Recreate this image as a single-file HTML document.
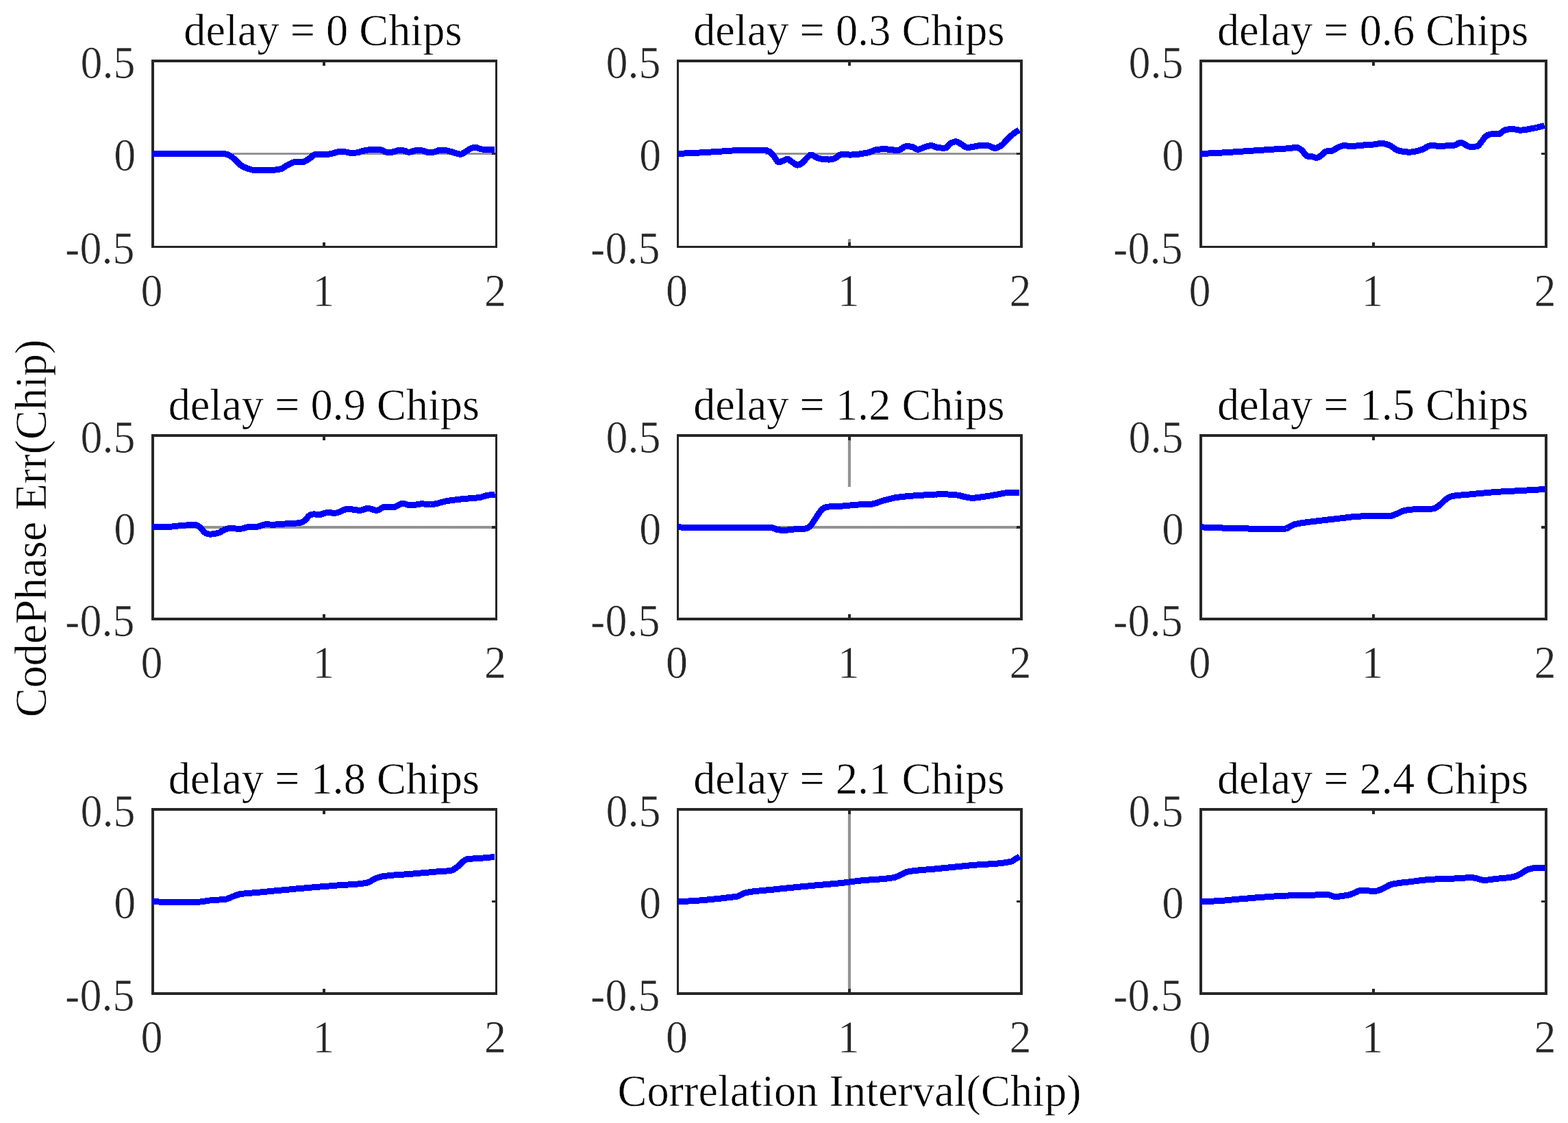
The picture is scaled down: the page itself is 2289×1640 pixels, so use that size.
<!DOCTYPE html>
<html lang="en">
<head>
<meta charset="utf-8">
<title>CodePhase Err vs Correlation Interval</title>
<style>
html,body{margin:0;padding:0;background:#fff;}
body{width:2289px;height:1640px;overflow:hidden;}
svg{display:block;}
text{font-family:"Liberation Serif",serif;font-size:64.35px;white-space:pre;stroke:#fff;stroke-width:0.6px;stroke-linejoin:round;}
text.d{font-size:64px;}
.ax{fill:#262626;shape-rendering:crispEdges;}
.dz{fill:url(#dith);shape-rendering:crispEdges;}
.ln{shape-rendering:crispEdges;fill:none;stroke:#0000ff;stroke-width:9;stroke-linejoin:round;stroke-linecap:butt;}
</style>
</head>
<body>
<svg width="2289" height="1640" viewBox="0 0 2289 1640">
<defs>
<pattern id="dith" patternUnits="userSpaceOnUse" x="0" y="0" width="2" height="2">
<rect x="0" y="0" width="1" height="1" fill="#262626"/>
<rect x="1" y="1" width="1" height="1" fill="#262626"/>
</pattern>
</defs>
<rect x="0" y="0" width="2289" height="1640" fill="#fff"/>
<g id="plot1">
<rect class="dz" x="225" y="223" width="498" height="3"/>
<rect class="ax" x="221" y="87" width="4" height="275"/>
<rect class="ax" x="723" y="87" width="3" height="275"/>
<rect class="ax" x="221" y="87" width="505" height="4"/>
<rect class="ax" x="221" y="359" width="505" height="3"/>
<rect class="ax" x="471" y="91" width="4" height="5"/>
<rect class="ax" x="471" y="354" width="4" height="5"/>
<rect class="ax" x="225" y="223" width="5" height="3"/>
<rect class="ax" x="718" y="223" width="5" height="3"/>
<polyline class="ln" points="221.9,224.4 223.9,224.4 225.9,224.4 227.9,224.4 229.9,224.4 231.9,224.4 233.9,224.4 235.9,224.4 237.9,224.4 239.9,224.4 241.9,224.4 243.9,224.4 245.9,224.4 247.9,224.4 249.9,224.4 251.9,224.4 253.9,224.4 255.9,224.4 257.9,224.4 259.9,224.4 261.9,224.4 263.9,224.4 265.9,224.4 267.9,224.4 269.9,224.4 271.9,224.4 273.9,224.4 275.9,224.4 277.9,224.4 279.9,224.4 281.9,224.4 283.9,224.4 285.9,224.4 287.9,224.4 289.9,224.4 291.9,224.4 293.9,224.4 295.9,224.4 297.9,224.4 299.9,224.4 301.9,224.4 303.9,224.4 305.9,224.4 307.9,224.4 309.9,224.4 311.9,224.4 313.9,224.4 315.9,224.4 317.9,224.4 319.9,224.4 321.9,224.4 323.9,224.4 325.9,224.5 327.9,224.7 329.9,225.1 331.9,225.6 333.9,226.3 335.9,227.5 337.9,228.9 339.9,230.4 341.9,232.1 343.9,234.1 345.9,236.2 347.9,238.2 349.9,240.1 351.9,241.6 353.9,242.7 355.9,243.8 357.9,244.7 359.9,245.6 361.9,246.3 363.9,246.9 365.9,247.5 367.9,248.0 369.9,248.3 371.9,248.4 373.9,248.4 375.9,248.4 378.0,248.4 380.0,248.4 382.0,248.4 384.0,248.4 386.0,248.4 388.0,248.4 390.0,248.4 392.0,248.4 394.0,248.4 396.0,248.4 398.0,248.3 400.0,248.2 402.0,248.0 404.0,247.8 406.0,247.5 408.0,247.2 410.0,246.7 412.0,245.9 414.0,244.7 416.0,243.4 418.0,242.1 420.0,241.0 422.0,240.0 424.0,238.9 426.0,237.8 428.0,237.0 430.0,236.8 432.0,236.7 434.0,236.7 436.0,236.6 438.0,236.6 440.0,236.6 442.0,236.5 444.0,236.1 446.0,235.2 448.0,233.9 450.0,232.5 452.0,231.2 454.0,229.8 456.0,228.0 458.0,226.5 460.0,225.5 462.0,225.4 464.0,225.4 466.0,225.4 468.0,225.4 470.0,225.4 472.0,225.4 474.0,225.4 476.0,225.4 478.0,225.4 480.0,225.2 482.0,224.8 484.0,224.4 486.0,223.8 488.0,223.3 490.0,222.7 492.0,222.2 494.0,221.8 496.0,221.6 498.0,221.6 500.0,221.6 502.0,221.7 504.0,221.9 506.0,222.1 508.0,222.6 510.0,223.1 512.0,223.4 514.0,223.4 516.0,223.3 518.0,223.2 520.0,223.0 522.0,222.8 524.0,222.3 526.0,221.6 528.0,220.9 530.0,220.3 532.0,219.9 534.0,219.5 536.0,219.2 538.0,218.9 540.0,218.7 542.0,218.6 544.0,218.6 546.0,218.6 548.0,218.6 550.0,218.6 552.0,218.6 554.0,218.7 556.1,218.9 558.1,219.7 560.1,220.7 562.1,221.6 564.1,222.2 566.1,222.6 568.1,222.9 570.1,222.8 572.1,222.3 574.1,221.7 576.1,221.2 578.1,220.4 580.1,219.8 582.1,219.4 584.1,219.5 586.1,219.5 588.1,219.7 590.1,220.0 592.1,220.7 594.1,221.5 596.1,222.1 598.1,222.1 600.1,221.7 602.1,221.0 604.1,220.3 606.1,219.8 608.1,219.7 610.1,219.7 612.1,219.8 614.1,219.8 616.1,219.9 618.1,220.3 620.1,221.1 622.1,221.8 624.1,222.3 626.1,222.3 628.1,222.3 630.1,222.3 632.1,222.3 634.1,222.0 636.1,221.2 638.1,220.3 640.1,219.7 642.1,219.7 644.1,219.7 646.1,219.7 648.1,219.7 650.1,219.8 652.1,219.9 654.1,220.2 656.1,220.8 658.1,221.4 660.1,222.1 662.1,222.7 664.1,223.3 666.1,223.9 668.1,224.5 670.1,225.0 672.1,225.2 674.1,224.8 676.1,223.8 678.1,222.5 680.1,221.2 682.1,220.1 684.1,218.7 686.1,217.4 688.1,216.4 690.1,215.9 692.1,215.6 694.1,215.4 696.1,215.7 698.1,216.5 700.1,217.3 702.1,217.7 704.1,218.0 706.1,218.2 708.1,218.4 710.1,218.4 712.1,218.4 714.1,218.4 716.1,218.4 718.1,218.4 720.1,218.4 722.1,218.4"/>
<text transform="translate(471.35 66.40) scale(1 1.012)" text-anchor="middle" fill="#000">delay = 0 Chips</text>
<text class="d" transform="translate(197.50 113.60) scale(1 1.06)" text-anchor="end" fill="#262626">0.5</text>
<text class="d" transform="translate(198.30 249.35) scale(1 1.06)" text-anchor="end" fill="#262626">0</text>
<text class="d" transform="translate(196.40 385.10) scale(1 1.06)" text-anchor="end" fill="#262626">-0.5</text>
<text class="d" transform="translate(221.60 446.60) scale(1 1.06)" text-anchor="middle" fill="#262626">0</text>
<text class="d" transform="translate(472.35 446.60) scale(1 1.06)" text-anchor="middle" fill="#262626">1</text>
<text class="d" transform="translate(723.10 446.60) scale(1 1.06)" text-anchor="middle" fill="#262626">2</text>
</g>
<g id="plot2">
<rect class="dz" x="1117" y="223" width="372" height="3"/>
<rect class="dz" x="1238" y="349" width="4" height="5"/>
<rect class="ax" x="988" y="87" width="3" height="275"/>
<rect class="ax" x="1489" y="87" width="4" height="275"/>
<rect class="ax" x="988" y="87" width="505" height="4"/>
<rect class="ax" x="988" y="359" width="505" height="3"/>
<rect class="ax" x="1238" y="91" width="4" height="5"/>
<rect class="ax" x="1238" y="354" width="4" height="5"/>
<rect class="ax" x="991" y="223" width="5" height="3"/>
<rect class="ax" x="1484" y="223" width="5" height="3"/>
<polyline class="ln" points="988.9,224.4 990.9,224.3 992.9,224.3 994.9,224.2 996.9,224.1 998.9,224.0 1000.9,223.9 1002.9,223.9 1004.9,223.8 1006.9,223.7 1008.9,223.6 1010.9,223.5 1012.9,223.4 1014.9,223.3 1016.9,223.2 1018.9,223.1 1020.9,223.0 1022.9,222.9 1024.9,222.8 1026.9,222.7 1028.9,222.5 1030.9,222.4 1032.9,222.3 1034.9,222.2 1037.0,222.1 1039.0,221.9 1041.0,221.8 1043.0,221.7 1045.0,221.6 1047.0,221.4 1049.0,221.3 1051.0,221.2 1053.0,221.1 1055.0,220.9 1057.0,220.8 1059.0,220.7 1061.0,220.5 1063.0,220.4 1065.0,220.3 1067.0,220.2 1069.0,220.0 1071.0,219.9 1073.0,219.8 1075.0,219.7 1077.0,219.7 1079.0,219.6 1081.0,219.5 1083.0,219.4 1085.0,219.4 1087.0,219.4 1089.0,219.4 1091.0,219.4 1093.1,219.4 1095.1,219.4 1097.1,219.4 1099.1,219.4 1101.1,219.4 1103.1,219.4 1105.1,219.4 1107.1,219.4 1109.1,219.4 1111.1,219.4 1113.1,219.4 1115.1,219.4 1117.1,219.4 1119.1,219.7 1121.1,220.4 1123.1,221.2 1125.1,222.7 1127.1,224.9 1129.1,227.3 1131.1,230.0 1133.1,233.3 1135.1,236.0 1137.1,236.7 1139.1,236.3 1141.1,235.6 1143.1,234.8 1145.1,233.8 1147.2,232.7 1149.2,232.1 1151.2,232.7 1153.2,234.1 1155.2,235.7 1157.2,237.1 1159.2,238.5 1161.2,240.0 1163.2,241.0 1165.2,241.0 1167.2,240.3 1169.2,239.1 1171.2,237.7 1173.2,236.0 1175.2,233.6 1177.2,231.2 1179.2,229.3 1181.2,227.4 1183.2,226.1 1185.2,226.1 1187.2,227.1 1189.2,228.5 1191.2,229.7 1193.2,230.5 1195.2,231.2 1197.2,231.8 1199.2,232.2 1201.2,232.4 1203.3,232.6 1205.3,232.8 1207.3,232.9 1209.3,233.0 1211.3,233.0 1213.3,232.7 1215.3,232.3 1217.3,231.7 1219.3,231.1 1221.3,229.9 1223.3,228.2 1225.3,226.6 1227.3,225.7 1229.3,225.7 1231.3,225.7 1233.3,225.8 1235.3,225.9 1237.3,225.9 1239.3,226.0 1241.3,226.0 1243.3,226.0 1245.3,225.9 1247.3,225.8 1249.3,225.6 1251.3,225.4 1253.3,225.2 1255.3,224.9 1257.4,224.6 1259.4,224.2 1261.4,223.9 1263.4,223.5 1265.4,223.2 1267.4,222.8 1269.4,222.2 1271.4,221.5 1273.4,220.7 1275.4,219.8 1277.4,219.1 1279.4,218.5 1281.4,218.2 1283.4,218.1 1285.4,218.0 1287.4,217.9 1289.4,217.9 1291.4,217.9 1293.4,217.9 1295.4,218.0 1297.4,218.2 1299.4,218.4 1301.4,218.7 1303.4,218.9 1305.4,219.1 1307.4,219.3 1309.4,219.4 1311.5,219.3 1313.5,218.6 1315.5,217.5 1317.5,216.1 1319.5,214.9 1321.5,214.0 1323.5,213.8 1325.5,213.8 1327.5,213.9 1329.5,214.1 1331.5,214.3 1333.5,215.0 1335.5,216.5 1337.5,217.8 1339.5,218.4 1341.5,218.1 1343.5,217.4 1345.5,216.6 1347.5,215.7 1349.5,215.1 1351.5,214.4 1353.5,213.8 1355.5,213.2 1357.5,212.8 1359.5,212.6 1361.5,213.0 1363.5,213.7 1365.5,214.5 1367.6,215.3 1369.6,215.8 1371.6,215.9 1373.6,216.0 1375.6,216.1 1377.6,216.1 1379.6,216.1 1381.6,215.7 1383.6,213.4 1385.6,210.8 1387.6,209.4 1389.6,208.4 1391.6,207.5 1393.6,207.0 1395.6,206.8 1397.6,207.2 1399.6,208.3 1401.6,209.6 1403.6,210.8 1405.6,212.1 1407.6,213.6 1409.6,214.8 1411.6,215.4 1413.6,215.3 1415.6,215.1 1417.6,214.8 1419.6,214.4 1421.7,214.1 1423.7,213.8 1425.7,213.4 1427.7,213.0 1429.7,212.8 1431.7,212.6 1433.7,212.6 1435.7,212.6 1437.7,212.6 1439.7,212.6 1441.7,212.6 1443.7,213.0 1445.7,213.7 1447.7,214.7 1449.7,215.6 1451.7,216.2 1453.7,216.2 1455.7,215.7 1457.7,214.8 1459.7,213.7 1461.7,212.5 1463.7,210.8 1465.7,208.8 1467.7,206.5 1469.7,204.3 1471.7,202.2 1473.7,200.3 1475.7,198.5 1477.8,196.7 1479.8,195.0 1481.8,193.5 1483.8,192.2 1485.8,191.0 1487.8,189.9"/>
<text transform="translate(1239.35 66.40) scale(1 1.012)" text-anchor="middle" fill="#000">delay = 0.3 Chips</text>
<text class="d" transform="translate(964.50 113.60) scale(1 1.06)" text-anchor="end" fill="#262626">0.5</text>
<text class="d" transform="translate(965.30 249.35) scale(1 1.06)" text-anchor="end" fill="#262626">0</text>
<text class="d" transform="translate(963.40 385.10) scale(1 1.06)" text-anchor="end" fill="#262626">-0.5</text>
<text class="d" transform="translate(988.10 446.60) scale(1 1.06)" text-anchor="middle" fill="#262626">0</text>
<text class="d" transform="translate(1238.85 446.60) scale(1 1.06)" text-anchor="middle" fill="#262626">1</text>
<text class="d" transform="translate(1489.60 446.60) scale(1 1.06)" text-anchor="middle" fill="#262626">2</text>
</g>
<g id="plot3">
<rect class="ax" x="1751" y="87" width="4" height="275"/>
<rect class="ax" x="2255" y="87" width="4" height="275"/>
<rect class="ax" x="1751" y="87" width="508" height="4"/>
<rect class="ax" x="1751" y="359" width="508" height="3"/>
<rect class="ax" x="2003" y="91" width="4" height="5"/>
<rect class="ax" x="2003" y="354" width="4" height="5"/>
<rect class="ax" x="1755" y="223" width="5" height="3"/>
<rect class="ax" x="2250" y="223" width="5" height="3"/>
<polyline class="ln" points="1752.2,224.5 1754.2,224.4 1756.2,224.3 1758.2,224.3 1760.2,224.2 1762.2,224.1 1764.2,224.0 1766.2,223.9 1768.2,223.8 1770.2,223.7 1772.3,223.6 1774.3,223.5 1776.3,223.4 1778.3,223.3 1780.3,223.2 1782.3,223.1 1784.3,223.0 1786.3,222.9 1788.3,222.7 1790.3,222.6 1792.3,222.5 1794.3,222.4 1796.3,222.3 1798.3,222.1 1800.3,222.0 1802.3,221.9 1804.3,221.7 1806.3,221.6 1808.3,221.5 1810.3,221.3 1812.3,221.2 1814.3,221.1 1816.3,220.9 1818.3,220.8 1820.3,220.7 1822.3,220.6 1824.3,220.4 1826.3,220.3 1828.3,220.2 1830.3,220.0 1832.3,219.9 1834.3,219.8 1836.3,219.6 1838.3,219.5 1840.3,219.4 1842.3,219.2 1844.3,219.1 1846.3,218.9 1848.3,218.8 1850.3,218.7 1852.3,218.5 1854.3,218.4 1856.3,218.3 1858.3,218.1 1860.3,218.0 1862.3,217.9 1864.3,217.8 1866.3,217.7 1868.3,217.6 1870.3,217.4 1872.3,217.3 1874.3,217.2 1876.3,217.1 1878.3,216.9 1880.3,216.8 1882.3,216.6 1884.3,216.4 1886.3,216.1 1888.3,215.7 1890.3,215.5 1892.3,215.4 1894.3,215.8 1896.3,216.8 1898.3,217.9 1900.3,219.3 1902.3,221.6 1904.3,224.4 1906.3,226.8 1908.3,228.0 1910.3,228.3 1912.3,228.5 1914.3,228.7 1916.3,229.0 1918.3,229.6 1920.3,230.2 1922.3,230.4 1924.3,229.7 1926.3,228.6 1928.3,227.3 1930.3,225.6 1932.3,223.5 1934.3,221.7 1936.3,221.0 1938.3,220.8 1940.3,220.6 1942.3,220.4 1944.3,220.2 1946.3,219.4 1948.4,218.2 1950.4,217.0 1952.4,215.9 1954.4,215.0 1956.4,214.0 1958.4,213.3 1960.4,212.9 1962.4,212.9 1964.4,212.9 1966.4,213.0 1968.4,213.0 1970.4,213.1 1972.4,213.1 1974.4,213.1 1976.4,213.2 1978.4,213.1 1980.4,213.0 1982.4,212.9 1984.4,212.7 1986.4,212.5 1988.4,212.2 1990.4,212.0 1992.4,211.8 1994.4,211.6 1996.4,211.5 1998.4,211.4 2000.4,211.3 2002.4,211.2 2004.4,211.1 2006.4,210.8 2008.4,210.5 2010.4,210.2 2012.4,209.8 2014.4,209.6 2016.4,209.4 2018.4,209.4 2020.4,209.7 2022.4,210.2 2024.4,210.8 2026.4,211.5 2028.4,212.3 2030.4,213.2 2032.4,214.5 2034.4,215.9 2036.4,217.4 2038.4,218.7 2040.4,219.6 2042.4,220.1 2044.4,220.6 2046.4,221.0 2048.4,221.3 2050.4,221.6 2052.4,221.8 2054.4,222.0 2056.4,222.1 2058.4,222.1 2060.4,222.0 2062.4,221.7 2064.4,221.4 2066.4,221.0 2068.4,220.5 2070.4,220.0 2072.4,219.4 2074.4,218.8 2076.4,218.3 2078.4,217.4 2080.4,216.2 2082.4,215.0 2084.4,213.8 2086.4,213.0 2088.4,212.6 2090.4,212.7 2092.4,212.7 2094.4,212.8 2096.4,213.0 2098.4,213.1 2100.4,213.1 2102.4,213.1 2104.4,213.1 2106.4,213.1 2108.4,213.0 2110.4,213.0 2112.4,212.9 2114.4,212.8 2116.4,212.7 2118.4,212.6 2120.4,212.5 2122.4,212.4 2124.5,211.8 2126.5,210.7 2128.5,209.5 2130.5,208.6 2132.5,208.3 2134.5,208.7 2136.5,209.6 2138.5,210.8 2140.5,212.1 2142.5,213.3 2144.5,214.0 2146.5,214.2 2148.5,214.2 2150.5,214.2 2152.5,214.1 2154.5,214.0 2156.5,213.8 2158.5,212.4 2160.5,210.0 2162.5,207.3 2164.5,204.8 2166.5,201.9 2168.5,199.4 2170.5,198.0 2172.5,197.0 2174.5,196.3 2176.5,195.9 2178.5,195.9 2180.5,195.9 2182.5,195.9 2184.5,195.9 2186.5,195.9 2188.5,195.6 2190.5,194.5 2192.5,192.9 2194.5,191.3 2196.5,190.1 2198.5,189.6 2200.5,189.2 2202.5,188.8 2204.5,188.5 2206.5,188.4 2208.5,188.5 2210.5,188.7 2212.5,189.1 2214.5,189.5 2216.5,189.9 2218.5,190.1 2220.5,190.1 2222.5,190.0 2224.5,189.8 2226.5,189.5 2228.5,189.2 2230.5,188.8 2232.5,188.4 2234.5,188.0 2236.5,187.7 2238.5,187.3 2240.5,186.9 2242.5,186.5 2244.5,186.0 2246.5,185.5 2248.5,185.0 2250.5,184.5 2252.5,184.0 2254.5,183.4"/>
<text transform="translate(2004.10 66.40) scale(1 1.012)" text-anchor="middle" fill="#000">delay = 0.6 Chips</text>
<text class="d" transform="translate(1727.50 113.60) scale(1 1.06)" text-anchor="end" fill="#262626">0.5</text>
<text class="d" transform="translate(1728.30 249.35) scale(1 1.06)" text-anchor="end" fill="#262626">0</text>
<text class="d" transform="translate(1726.40 385.10) scale(1 1.06)" text-anchor="end" fill="#262626">-0.5</text>
<text class="d" transform="translate(1751.60 446.60) scale(1 1.06)" text-anchor="middle" fill="#262626">0</text>
<text class="d" transform="translate(2003.60 446.60) scale(1 1.06)" text-anchor="middle" fill="#262626">1</text>
<text class="d" transform="translate(2255.60 446.60) scale(1 1.06)" text-anchor="middle" fill="#262626">2</text>
</g>
<g id="plot4">
<rect class="dz" x="225" y="768" width="498" height="4"/>
<rect class="ax" x="221" y="634" width="4" height="272"/>
<rect class="ax" x="723" y="634" width="3" height="272"/>
<rect class="ax" x="221" y="634" width="505" height="4"/>
<rect class="ax" x="221" y="902" width="505" height="4"/>
<rect class="ax" x="471" y="638" width="4" height="5"/>
<rect class="ax" x="471" y="897" width="4" height="5"/>
<rect class="ax" x="225" y="768" width="5" height="4"/>
<rect class="ax" x="718" y="768" width="5" height="4"/>
<polyline class="ln" points="221.9,769.4 223.9,769.4 225.9,769.4 227.9,769.4 229.9,769.4 231.9,769.4 233.9,769.3 235.9,769.3 237.9,769.3 239.9,769.3 241.9,769.3 243.9,769.3 245.9,769.3 247.9,769.2 249.9,769.1 251.9,768.9 253.9,768.7 255.9,768.5 257.9,768.2 259.9,768.0 261.9,767.8 263.9,767.6 265.9,767.4 267.9,767.3 269.9,767.1 271.9,767.0 273.9,766.8 275.9,766.7 278.0,766.6 280.0,766.5 282.0,766.4 284.0,766.4 286.0,766.5 288.0,767.4 290.0,768.7 292.0,770.2 294.0,772.0 296.0,774.5 298.0,776.9 300.0,778.4 302.0,779.2 304.0,779.9 306.0,780.1 308.0,780.1 310.0,779.9 312.0,779.6 314.0,779.3 316.0,778.9 318.0,778.5 320.0,777.9 322.0,776.8 324.0,775.6 326.0,774.4 328.0,773.6 330.0,772.8 332.0,772.2 334.0,771.8 336.0,771.8 338.0,771.8 340.0,771.8 342.1,771.9 344.1,772.0 346.1,772.0 348.1,772.1 350.1,772.1 352.1,772.1 354.1,771.9 356.1,771.4 358.1,770.7 360.1,770.0 362.1,769.6 364.1,769.5 366.1,769.5 368.1,769.4 370.1,769.4 372.1,769.3 374.1,769.2 376.1,769.1 378.1,768.7 380.1,768.0 382.1,767.2 384.1,766.4 386.1,766.0 388.1,765.9 390.1,765.9 392.1,765.9 394.1,766.0 396.1,766.0 398.1,766.0 400.1,766.0 402.1,766.0 404.1,765.9 406.2,765.8 408.2,765.6 410.2,765.4 412.2,765.3 414.2,765.1 416.2,765.0 418.2,764.8 420.2,764.7 422.2,764.6 424.2,764.5 426.2,764.4 428.2,764.3 430.2,764.2 432.2,764.1 434.2,763.9 436.2,763.7 438.2,763.4 440.2,762.9 442.2,761.8 444.2,760.5 446.2,759.0 448.2,756.6 450.2,753.9 452.2,752.4 454.2,751.6 456.2,751.1 458.2,750.9 460.2,751.0 462.2,751.1 464.2,751.3 466.2,751.4 468.2,751.3 470.2,750.7 472.3,750.0 474.3,749.2 476.3,748.7 478.3,748.7 480.3,748.7 482.3,748.9 484.3,749.0 486.3,749.1 488.3,749.1 490.3,749.1 492.3,748.8 494.3,748.1 496.3,747.2 498.3,746.2 500.3,745.3 502.3,744.5 504.3,743.9 506.3,743.8 508.3,743.8 510.3,743.8 512.3,743.9 514.3,744.0 516.3,744.1 518.3,744.2 520.3,744.7 522.3,745.2 524.3,745.5 526.3,745.4 528.3,744.9 530.3,744.3 532.3,743.6 534.3,742.9 536.4,742.6 538.4,742.6 540.4,742.9 542.4,743.5 544.4,744.2 546.4,744.8 548.4,745.3 550.4,745.4 552.4,744.8 554.4,743.8 556.4,742.5 558.4,741.3 560.4,740.4 562.4,740.0 564.4,740.0 566.4,740.1 568.4,740.2 570.4,740.3 572.4,740.4 574.4,740.4 576.4,740.2 578.4,739.4 580.4,738.3 582.4,737.1 584.4,736.1 586.4,735.5 588.4,735.5 590.4,735.8 592.4,736.3 594.4,736.9 596.4,737.5 598.4,737.8 600.5,737.9 602.5,737.7 604.5,737.5 606.5,737.2 608.5,736.8 610.5,736.4 612.5,736.1 614.5,735.9 616.5,735.9 618.5,736.0 620.5,736.1 622.5,736.2 624.5,736.3 626.5,736.4 628.5,736.5 630.5,736.5 632.5,736.4 634.5,736.1 636.5,735.7 638.5,735.2 640.5,734.7 642.5,734.1 644.5,733.5 646.5,732.9 648.5,732.4 650.5,732.0 652.5,731.6 654.5,731.3 656.5,731.0 658.5,730.7 660.5,730.4 662.5,730.2 664.6,729.9 666.6,729.7 668.6,729.5 670.6,729.2 672.6,729.0 674.6,728.8 676.6,728.6 678.6,728.4 680.6,728.2 682.6,728.1 684.6,727.9 686.6,727.8 688.6,727.6 690.6,727.5 692.6,727.3 694.6,727.1 696.6,726.9 698.6,726.7 700.6,726.4 702.6,725.9 704.6,725.4 706.6,724.7 708.6,724.1 710.6,723.6 712.6,723.2 714.6,722.9 716.6,722.8 718.6,722.7 720.6,722.6 722.6,722.5"/>
<text transform="translate(472.85 613.40) scale(1 1.012)" text-anchor="middle" fill="#000">delay = 0.9 Chips</text>
<text class="d" transform="translate(197.50 660.60) scale(1 1.06)" text-anchor="end" fill="#262626">0.5</text>
<text class="d" transform="translate(198.30 794.60) scale(1 1.06)" text-anchor="end" fill="#262626">0</text>
<text class="d" transform="translate(196.40 928.60) scale(1 1.06)" text-anchor="end" fill="#262626">-0.5</text>
<text class="d" transform="translate(221.60 989.60) scale(1 1.06)" text-anchor="middle" fill="#262626">0</text>
<text class="d" transform="translate(472.35 989.60) scale(1 1.06)" text-anchor="middle" fill="#262626">1</text>
<text class="d" transform="translate(723.10 989.60) scale(1 1.06)" text-anchor="middle" fill="#262626">2</text>
</g>
<g id="plot5">
<rect class="dz" x="991" y="768" width="498" height="4"/>
<rect class="dz" x="1238" y="638" width="4" height="73"/>
<rect class="ax" x="988" y="634" width="3" height="272"/>
<rect class="ax" x="1489" y="634" width="4" height="272"/>
<rect class="ax" x="988" y="634" width="505" height="4"/>
<rect class="ax" x="988" y="902" width="505" height="4"/>
<rect class="ax" x="1238" y="638" width="4" height="5"/>
<rect class="ax" x="1238" y="897" width="4" height="5"/>
<rect class="ax" x="991" y="768" width="5" height="4"/>
<rect class="ax" x="1484" y="768" width="5" height="4"/>
<polyline class="ln" points="988.9,769.4 990.9,769.6 992.9,769.9 994.9,770.1 996.9,770.3 998.9,770.4 1000.9,770.4 1002.9,770.5 1004.9,770.5 1006.9,770.6 1008.9,770.6 1010.9,770.6 1012.9,770.7 1014.9,770.7 1016.9,770.7 1018.9,770.7 1020.9,770.8 1022.9,770.8 1024.9,770.8 1026.9,770.8 1028.9,770.8 1030.9,770.8 1032.9,770.9 1034.9,770.9 1037.0,770.9 1039.0,770.9 1041.0,770.9 1043.0,770.9 1045.0,770.9 1047.0,770.9 1049.0,770.9 1051.0,770.9 1053.0,770.9 1055.0,770.9 1057.0,770.9 1059.0,770.9 1061.0,770.9 1063.0,770.8 1065.0,770.8 1067.0,770.8 1069.0,770.8 1071.0,770.8 1073.0,770.8 1075.0,770.8 1077.0,770.8 1079.0,770.8 1081.0,770.8 1083.0,770.8 1085.0,770.8 1087.0,770.8 1089.0,770.8 1091.0,770.8 1093.1,770.8 1095.1,770.7 1097.1,770.7 1099.1,770.7 1101.1,770.7 1103.1,770.7 1105.1,770.7 1107.1,770.6 1109.1,770.6 1111.1,770.6 1113.1,770.6 1115.1,770.6 1117.1,770.5 1119.1,770.5 1121.1,770.5 1123.1,770.5 1125.1,770.5 1127.1,770.7 1129.1,771.3 1131.1,772.2 1133.1,773.0 1135.1,773.6 1137.1,773.8 1139.1,774.1 1141.1,774.2 1143.1,774.4 1145.1,774.4 1147.2,774.3 1149.2,774.1 1151.2,773.9 1153.2,773.6 1155.2,773.4 1157.2,773.2 1159.2,773.0 1161.2,772.9 1163.2,772.8 1165.2,772.7 1167.2,772.6 1169.2,772.6 1171.2,772.5 1173.2,772.3 1175.2,772.1 1177.2,771.7 1179.2,770.8 1181.2,769.5 1183.2,767.8 1185.2,765.2 1187.2,762.1 1189.2,759.1 1191.2,756.1 1193.2,752.9 1195.2,749.8 1197.2,747.3 1199.2,744.9 1201.2,742.8 1203.3,741.6 1205.3,740.9 1207.3,740.4 1209.3,740.1 1211.3,739.9 1213.3,739.7 1215.3,739.6 1217.3,739.5 1219.3,739.4 1221.3,739.4 1223.3,739.3 1225.3,739.2 1227.3,739.1 1229.3,739.1 1231.3,738.9 1233.3,738.8 1235.3,738.6 1237.3,738.4 1239.3,738.2 1241.3,738.0 1243.3,737.8 1245.3,737.6 1247.3,737.4 1249.3,737.2 1251.3,737.1 1253.3,737.0 1255.3,736.9 1257.4,736.9 1259.4,736.8 1261.4,736.7 1263.4,736.6 1265.4,736.6 1267.4,736.5 1269.4,736.3 1271.4,736.2 1273.4,736.0 1275.4,735.6 1277.4,735.1 1279.4,734.5 1281.4,733.8 1283.4,733.1 1285.4,732.4 1287.4,731.7 1289.4,731.1 1291.4,730.6 1293.4,730.1 1295.4,729.5 1297.4,729.0 1299.4,728.5 1301.4,728.0 1303.4,727.5 1305.4,727.1 1307.4,726.7 1309.4,726.4 1311.5,726.1 1313.5,725.9 1315.5,725.6 1317.5,725.4 1319.5,725.2 1321.5,725.0 1323.5,724.8 1325.5,724.6 1327.5,724.4 1329.5,724.3 1331.5,724.1 1333.5,724.0 1335.5,723.8 1337.5,723.7 1339.5,723.6 1341.5,723.4 1343.5,723.3 1345.5,723.2 1347.5,723.1 1349.5,722.9 1351.5,722.8 1353.5,722.7 1355.5,722.6 1357.5,722.4 1359.5,722.3 1361.5,722.2 1363.5,722.1 1365.5,722.0 1367.6,722.0 1369.6,721.9 1371.6,721.9 1373.6,721.8 1375.6,721.8 1377.6,721.8 1379.6,721.8 1381.6,721.9 1383.6,722.0 1385.6,722.1 1387.6,722.2 1389.6,722.3 1391.6,722.5 1393.6,722.6 1395.6,722.8 1397.6,723.1 1399.6,723.5 1401.6,723.9 1403.6,724.4 1405.6,724.9 1407.6,725.4 1409.6,725.9 1411.6,726.3 1413.6,726.7 1415.6,727.0 1417.6,727.1 1419.6,727.2 1421.7,727.1 1423.7,727.0 1425.7,726.8 1427.7,726.6 1429.7,726.3 1431.7,726.0 1433.7,725.7 1435.7,725.4 1437.7,725.1 1439.7,724.8 1441.7,724.5 1443.7,724.2 1445.7,723.9 1447.7,723.5 1449.7,723.2 1451.7,722.8 1453.7,722.5 1455.7,722.1 1457.7,721.8 1459.7,721.4 1461.7,720.9 1463.7,720.6 1465.7,720.2 1467.7,719.9 1469.7,719.8 1471.7,719.7 1473.7,719.6 1475.7,719.6 1477.8,719.6 1479.8,719.6 1481.8,719.6 1483.8,719.6 1485.8,719.6 1487.8,719.6"/>
<text transform="translate(1239.35 613.40) scale(1 1.012)" text-anchor="middle" fill="#000">delay = 1.2 Chips</text>
<text class="d" transform="translate(964.50 660.60) scale(1 1.06)" text-anchor="end" fill="#262626">0.5</text>
<text class="d" transform="translate(965.30 794.60) scale(1 1.06)" text-anchor="end" fill="#262626">0</text>
<text class="d" transform="translate(963.40 928.60) scale(1 1.06)" text-anchor="end" fill="#262626">-0.5</text>
<text class="d" transform="translate(988.10 989.60) scale(1 1.06)" text-anchor="middle" fill="#262626">0</text>
<text class="d" transform="translate(1238.85 989.60) scale(1 1.06)" text-anchor="middle" fill="#262626">1</text>
<text class="d" transform="translate(1489.60 989.60) scale(1 1.06)" text-anchor="middle" fill="#262626">2</text>
</g>
<g id="plot6">
<rect class="ax" x="1751" y="634" width="4" height="272"/>
<rect class="ax" x="2255" y="634" width="4" height="272"/>
<rect class="ax" x="1751" y="634" width="508" height="4"/>
<rect class="ax" x="1751" y="902" width="508" height="4"/>
<rect class="ax" x="2003" y="638" width="4" height="5"/>
<rect class="ax" x="2003" y="897" width="4" height="5"/>
<rect class="ax" x="1755" y="768" width="5" height="4"/>
<rect class="ax" x="2250" y="768" width="5" height="4"/>
<polyline class="ln" points="1752.2,769.4 1754.2,769.7 1756.2,769.9 1758.2,770.2 1760.3,770.3 1762.3,770.4 1764.3,770.5 1766.3,770.6 1768.3,770.6 1770.3,770.7 1772.3,770.7 1774.3,770.8 1776.3,770.8 1778.3,770.9 1780.3,770.9 1782.3,770.9 1784.3,771.0 1786.3,771.0 1788.3,771.0 1790.3,771.0 1792.3,771.1 1794.3,771.1 1796.3,771.1 1798.3,771.2 1800.3,771.2 1802.3,771.3 1804.3,771.3 1806.3,771.4 1808.3,771.5 1810.3,771.5 1812.3,771.6 1814.4,771.7 1816.4,771.8 1818.4,771.8 1820.4,771.9 1822.4,772.0 1824.4,772.1 1826.4,772.1 1828.4,772.2 1830.4,772.2 1832.4,772.3 1834.4,772.3 1836.4,772.3 1838.4,772.4 1840.4,772.4 1842.4,772.4 1844.4,772.4 1846.4,772.4 1848.4,772.4 1850.4,772.4 1852.4,772.4 1854.4,772.4 1856.4,772.4 1858.4,772.4 1860.4,772.4 1862.4,772.4 1864.4,772.4 1866.4,772.4 1868.4,772.4 1870.5,772.4 1872.5,772.4 1874.5,772.4 1876.5,772.1 1878.5,771.5 1880.5,770.5 1882.5,769.3 1884.5,768.1 1886.5,767.1 1888.5,766.2 1890.5,765.6 1892.5,765.2 1894.5,764.8 1896.5,764.4 1898.5,764.1 1900.5,763.7 1902.5,763.4 1904.5,763.2 1906.5,762.9 1908.5,762.6 1910.5,762.3 1912.5,762.1 1914.5,761.8 1916.5,761.6 1918.5,761.3 1920.5,761.1 1922.5,760.9 1924.6,760.6 1926.6,760.4 1928.6,760.2 1930.6,759.9 1932.6,759.7 1934.6,759.5 1936.6,759.2 1938.6,759.0 1940.6,758.8 1942.6,758.6 1944.6,758.3 1946.6,758.1 1948.6,757.9 1950.6,757.6 1952.6,757.4 1954.6,757.2 1956.6,756.9 1958.6,756.7 1960.6,756.5 1962.6,756.2 1964.6,756.0 1966.6,755.7 1968.6,755.5 1970.6,755.2 1972.6,755.0 1974.6,754.8 1976.6,754.7 1978.6,754.5 1980.7,754.4 1982.7,754.2 1984.7,754.1 1986.7,754.0 1988.7,753.8 1990.7,753.8 1992.7,753.7 1994.7,753.7 1996.7,753.7 1998.7,753.7 2000.7,753.7 2002.7,753.7 2004.7,753.7 2006.7,753.7 2008.7,753.7 2010.7,753.7 2012.7,753.7 2014.7,753.7 2016.7,753.7 2018.7,753.7 2020.7,753.7 2022.7,753.7 2024.7,753.7 2026.7,753.7 2028.7,753.7 2030.7,753.4 2032.7,752.8 2034.7,752.1 2036.8,751.3 2038.8,750.4 2040.8,749.5 2042.8,748.5 2044.8,747.6 2046.8,746.8 2048.8,746.0 2050.8,745.5 2052.8,745.1 2054.8,744.8 2056.8,744.5 2058.8,744.3 2060.8,744.1 2062.8,743.9 2064.8,743.8 2066.8,743.7 2068.8,743.6 2070.8,743.5 2072.8,743.5 2074.8,743.5 2076.8,743.4 2078.8,743.4 2080.8,743.3 2082.8,743.3 2084.8,743.3 2086.8,743.2 2088.8,743.1 2090.9,743.0 2092.9,742.8 2094.9,742.2 2096.9,741.0 2098.9,739.6 2100.9,738.1 2102.9,736.5 2104.9,734.5 2106.9,732.5 2108.9,730.6 2110.9,729.1 2112.9,727.7 2114.9,726.4 2116.9,725.4 2118.9,724.8 2120.9,724.5 2122.9,724.1 2124.9,723.8 2126.9,723.6 2128.9,723.3 2130.9,723.1 2132.9,723.0 2134.9,722.8 2136.9,722.6 2138.9,722.5 2140.9,722.3 2142.9,722.2 2144.9,722.0 2147.0,721.8 2149.0,721.6 2151.0,721.4 2153.0,721.2 2155.0,721.0 2157.0,720.8 2159.0,720.6 2161.0,720.4 2163.0,720.2 2165.0,720.1 2167.0,719.9 2169.0,719.7 2171.0,719.5 2173.0,719.3 2175.0,719.2 2177.0,719.0 2179.0,718.8 2181.0,718.7 2183.0,718.5 2185.0,718.4 2187.0,718.3 2189.0,718.2 2191.0,718.0 2193.0,717.9 2195.0,717.8 2197.0,717.7 2199.0,717.6 2201.0,717.5 2203.1,717.4 2205.1,717.3 2207.1,717.2 2209.1,717.1 2211.1,717.0 2213.1,716.9 2215.1,716.8 2217.1,716.7 2219.1,716.6 2221.1,716.5 2223.1,716.4 2225.1,716.3 2227.1,716.1 2229.1,716.0 2231.1,715.9 2233.1,715.8 2235.1,715.7 2237.1,715.6 2239.1,715.4 2241.1,715.3 2243.1,715.2 2245.1,715.1 2247.1,714.9 2249.1,714.8 2251.1,714.7 2253.1,714.6 2255.1,714.4"/>
<text transform="translate(2004.10 613.40) scale(1 1.012)" text-anchor="middle" fill="#000">delay = 1.5 Chips</text>
<text class="d" transform="translate(1727.50 660.60) scale(1 1.06)" text-anchor="end" fill="#262626">0.5</text>
<text class="d" transform="translate(1728.30 794.60) scale(1 1.06)" text-anchor="end" fill="#262626">0</text>
<text class="d" transform="translate(1726.40 928.60) scale(1 1.06)" text-anchor="end" fill="#262626">-0.5</text>
<text class="d" transform="translate(1751.60 989.60) scale(1 1.06)" text-anchor="middle" fill="#262626">0</text>
<text class="d" transform="translate(2003.60 989.60) scale(1 1.06)" text-anchor="middle" fill="#262626">1</text>
<text class="d" transform="translate(2255.60 989.60) scale(1 1.06)" text-anchor="middle" fill="#262626">2</text>
</g>
<g id="plot7">
<rect class="ax" x="221" y="1180" width="4" height="273"/>
<rect class="ax" x="723" y="1180" width="3" height="273"/>
<rect class="ax" x="221" y="1180" width="505" height="4"/>
<rect class="ax" x="221" y="1449" width="505" height="4"/>
<rect class="ax" x="471" y="1184" width="4" height="5"/>
<rect class="ax" x="471" y="1444" width="4" height="5"/>
<rect class="ax" x="225" y="1315" width="5" height="3"/>
<rect class="ax" x="718" y="1315" width="5" height="3"/>
<polyline class="ln" points="221.9,1316.5 223.9,1316.6 225.9,1316.7 227.9,1316.8 229.9,1316.9 231.9,1317.0 233.9,1317.1 235.9,1317.1 237.9,1317.2 239.9,1317.3 241.9,1317.3 243.9,1317.3 245.9,1317.4 247.9,1317.4 249.9,1317.4 251.9,1317.4 253.9,1317.4 255.9,1317.4 257.9,1317.4 259.9,1317.4 261.9,1317.4 263.9,1317.4 265.9,1317.4 267.9,1317.4 269.9,1317.4 271.9,1317.4 273.9,1317.4 275.9,1317.4 277.9,1317.4 279.9,1317.4 281.9,1317.4 283.9,1317.4 285.9,1317.4 287.9,1317.3 289.9,1317.2 291.9,1317.0 293.9,1316.8 295.9,1316.5 297.9,1316.2 299.9,1315.9 301.9,1315.6 303.9,1315.3 305.9,1315.0 307.9,1314.8 309.9,1314.6 311.9,1314.5 313.9,1314.3 315.9,1314.2 317.9,1314.1 319.9,1314.0 321.9,1313.9 323.9,1313.7 325.9,1313.6 327.9,1313.4 329.9,1313.1 331.9,1312.6 333.9,1311.8 335.9,1310.9 337.9,1310.0 339.9,1309.2 341.9,1308.5 343.9,1307.7 345.9,1307.0 347.9,1306.3 349.9,1305.8 351.9,1305.5 353.9,1305.2 355.9,1305.0 357.9,1304.8 359.9,1304.6 361.9,1304.4 363.9,1304.3 365.9,1304.1 367.9,1304.0 369.9,1303.8 371.9,1303.7 373.9,1303.5 375.9,1303.4 378.0,1303.2 380.0,1303.0 382.0,1302.8 384.0,1302.6 386.0,1302.4 388.0,1302.2 390.0,1302.0 392.0,1301.8 394.0,1301.6 396.0,1301.4 398.0,1301.2 400.0,1301.0 402.0,1300.9 404.0,1300.7 406.0,1300.5 408.0,1300.3 410.0,1300.1 412.0,1299.9 414.0,1299.7 416.0,1299.5 418.0,1299.3 420.0,1299.1 422.0,1299.0 424.0,1298.8 426.0,1298.6 428.0,1298.4 430.0,1298.2 432.0,1298.0 434.0,1297.9 436.0,1297.7 438.0,1297.5 440.0,1297.3 442.0,1297.1 444.0,1297.0 446.0,1296.8 448.0,1296.6 450.0,1296.4 452.0,1296.3 454.0,1296.1 456.0,1295.9 458.0,1295.8 460.0,1295.6 462.0,1295.4 464.0,1295.3 466.0,1295.1 468.0,1294.9 470.0,1294.8 472.0,1294.6 474.0,1294.5 476.0,1294.3 478.0,1294.1 480.0,1294.0 482.0,1293.8 484.0,1293.6 486.0,1293.5 488.0,1293.3 490.0,1293.2 492.0,1293.0 494.0,1292.9 496.0,1292.7 498.0,1292.6 500.0,1292.5 502.0,1292.4 504.0,1292.3 506.0,1292.2 508.0,1292.0 510.0,1291.9 512.0,1291.8 514.0,1291.6 516.0,1291.5 518.0,1291.3 520.0,1291.2 522.0,1291.0 524.0,1290.8 526.0,1290.6 528.0,1290.3 530.0,1290.1 532.0,1289.8 534.0,1289.5 536.0,1289.1 538.0,1288.4 540.0,1287.4 542.0,1286.3 544.0,1285.1 546.0,1284.0 548.0,1283.0 550.0,1282.2 552.0,1281.5 554.0,1280.9 556.1,1280.4 558.1,1279.9 560.1,1279.6 562.1,1279.3 564.1,1279.1 566.1,1278.9 568.1,1278.6 570.1,1278.4 572.1,1278.3 574.1,1278.1 576.1,1277.9 578.1,1277.8 580.1,1277.6 582.1,1277.5 584.1,1277.4 586.1,1277.2 588.1,1277.1 590.1,1277.0 592.1,1276.9 594.1,1276.7 596.1,1276.6 598.1,1276.4 600.1,1276.2 602.1,1276.1 604.1,1275.9 606.1,1275.7 608.1,1275.5 610.1,1275.4 612.1,1275.2 614.1,1275.0 616.1,1274.8 618.1,1274.7 620.1,1274.5 622.1,1274.3 624.1,1274.1 626.1,1274.0 628.1,1273.8 630.1,1273.6 632.1,1273.5 634.1,1273.3 636.1,1273.1 638.1,1272.9 640.1,1272.8 642.1,1272.7 644.1,1272.6 646.1,1272.5 648.1,1272.3 650.1,1272.2 652.1,1272.0 654.1,1271.8 656.1,1271.6 658.1,1271.3 660.1,1270.8 662.1,1269.8 664.1,1268.5 666.1,1267.1 668.1,1265.6 670.1,1263.7 672.1,1261.6 674.1,1259.7 676.1,1258.1 678.1,1256.6 680.1,1255.3 682.1,1254.7 684.1,1254.4 686.1,1254.2 688.1,1254.1 690.1,1254.0 692.1,1253.9 694.1,1253.8 696.1,1253.7 698.1,1253.5 700.1,1253.4 702.1,1253.2 704.1,1253.1 706.1,1252.9 708.1,1252.7 710.1,1252.6 712.1,1252.4 714.1,1252.2 716.1,1252.0 718.1,1251.8 720.1,1251.6 722.1,1251.4"/>
<text transform="translate(472.85 1159.40) scale(1 1.012)" text-anchor="middle" fill="#000">delay = 1.8 Chips</text>
<text class="d" transform="translate(197.50 1206.60) scale(1 1.06)" text-anchor="end" fill="#262626">0.5</text>
<text class="d" transform="translate(198.30 1341.10) scale(1 1.06)" text-anchor="end" fill="#262626">0</text>
<text class="d" transform="translate(196.40 1475.60) scale(1 1.06)" text-anchor="end" fill="#262626">-0.5</text>
<text class="d" transform="translate(221.60 1536.60) scale(1 1.06)" text-anchor="middle" fill="#262626">0</text>
<text class="d" transform="translate(472.35 1536.60) scale(1 1.06)" text-anchor="middle" fill="#262626">1</text>
<text class="d" transform="translate(723.10 1536.60) scale(1 1.06)" text-anchor="middle" fill="#262626">2</text>
</g>
<g id="plot8">
<rect class="dz" x="1238" y="1184" width="4" height="265"/>
<rect class="ax" x="988" y="1180" width="3" height="273"/>
<rect class="ax" x="1489" y="1180" width="4" height="273"/>
<rect class="ax" x="988" y="1180" width="505" height="4"/>
<rect class="ax" x="988" y="1449" width="505" height="4"/>
<rect class="ax" x="1238" y="1184" width="4" height="5"/>
<rect class="ax" x="1238" y="1444" width="4" height="5"/>
<rect class="ax" x="991" y="1315" width="5" height="3"/>
<rect class="ax" x="1484" y="1315" width="5" height="3"/>
<polyline class="ln" points="988.9,1316.5 990.9,1316.4 992.9,1316.4 994.9,1316.3 996.9,1316.3 998.9,1316.2 1000.9,1316.1 1002.8,1316.0 1004.8,1316.0 1006.8,1315.9 1008.8,1315.8 1010.8,1315.7 1012.8,1315.5 1014.8,1315.4 1016.8,1315.3 1018.8,1315.2 1020.8,1315.0 1022.8,1314.9 1024.8,1314.7 1026.8,1314.6 1028.8,1314.4 1030.8,1314.2 1032.8,1314.0 1034.8,1313.8 1036.8,1313.7 1038.8,1313.5 1040.8,1313.3 1042.8,1313.0 1044.8,1312.8 1046.8,1312.6 1048.8,1312.4 1050.8,1312.2 1052.8,1312.0 1054.8,1311.7 1056.8,1311.5 1058.8,1311.3 1060.8,1311.0 1062.8,1310.8 1064.8,1310.5 1066.8,1310.3 1068.8,1310.1 1070.8,1309.8 1072.8,1309.6 1074.8,1309.3 1076.8,1308.9 1078.8,1308.2 1080.8,1307.3 1082.8,1306.2 1084.8,1305.1 1086.8,1304.2 1088.8,1303.7 1090.8,1303.3 1092.8,1303.0 1094.8,1302.6 1096.8,1302.3 1098.8,1302.0 1100.8,1301.8 1102.8,1301.5 1104.8,1301.3 1106.8,1301.1 1108.8,1300.9 1110.7,1300.7 1112.7,1300.5 1114.7,1300.3 1116.7,1300.1 1118.7,1300.0 1120.7,1299.8 1122.7,1299.6 1124.7,1299.5 1126.7,1299.3 1128.7,1299.1 1130.7,1298.9 1132.7,1298.7 1134.7,1298.4 1136.7,1298.2 1138.7,1298.0 1140.7,1297.8 1142.7,1297.6 1144.7,1297.4 1146.7,1297.2 1148.7,1297.0 1150.7,1296.8 1152.7,1296.6 1154.7,1296.4 1156.7,1296.2 1158.7,1296.0 1160.7,1295.8 1162.7,1295.6 1164.7,1295.4 1166.7,1295.2 1168.7,1295.0 1170.7,1294.8 1172.7,1294.6 1174.7,1294.4 1176.7,1294.2 1178.7,1294.1 1180.7,1293.9 1182.7,1293.7 1184.7,1293.5 1186.7,1293.3 1188.7,1293.1 1190.7,1292.9 1192.7,1292.8 1194.7,1292.6 1196.7,1292.4 1198.7,1292.2 1200.7,1292.1 1202.7,1291.9 1204.7,1291.7 1206.7,1291.5 1208.7,1291.4 1210.7,1291.2 1212.7,1291.0 1214.7,1290.8 1216.6,1290.6 1218.6,1290.5 1220.6,1290.3 1222.6,1290.1 1224.6,1289.9 1226.6,1289.7 1228.6,1289.5 1230.6,1289.3 1232.6,1289.0 1234.6,1288.8 1236.6,1288.5 1238.6,1288.3 1240.6,1288.0 1242.6,1287.8 1244.6,1287.5 1246.6,1287.2 1248.6,1286.9 1250.6,1286.7 1252.6,1286.5 1254.6,1286.2 1256.6,1286.0 1258.6,1285.8 1260.6,1285.7 1262.6,1285.5 1264.6,1285.3 1266.6,1285.2 1268.6,1285.0 1270.6,1284.9 1272.6,1284.8 1274.6,1284.6 1276.6,1284.5 1278.6,1284.4 1280.6,1284.2 1282.6,1284.1 1284.6,1283.9 1286.6,1283.8 1288.6,1283.6 1290.6,1283.4 1292.6,1283.2 1294.6,1283.0 1296.6,1282.8 1298.6,1282.5 1300.6,1282.2 1302.6,1281.9 1304.6,1281.6 1306.6,1281.1 1308.6,1280.4 1310.6,1279.6 1312.6,1278.8 1314.6,1277.9 1316.6,1276.9 1318.6,1275.8 1320.6,1274.7 1322.6,1273.8 1324.5,1273.2 1326.5,1272.8 1328.5,1272.5 1330.5,1272.2 1332.5,1271.9 1334.5,1271.6 1336.5,1271.4 1338.5,1271.2 1340.5,1271.0 1342.5,1270.8 1344.5,1270.6 1346.5,1270.4 1348.5,1270.3 1350.5,1270.1 1352.5,1270.0 1354.5,1269.8 1356.5,1269.7 1358.5,1269.5 1360.5,1269.4 1362.5,1269.2 1364.5,1269.0 1366.5,1268.8 1368.5,1268.6 1370.5,1268.4 1372.5,1268.2 1374.5,1268.0 1376.5,1267.8 1378.5,1267.6 1380.5,1267.4 1382.5,1267.2 1384.5,1267.0 1386.5,1266.8 1388.5,1266.6 1390.5,1266.4 1392.5,1266.2 1394.5,1266.0 1396.5,1265.8 1398.5,1265.6 1400.5,1265.4 1402.5,1265.2 1404.5,1265.0 1406.5,1264.8 1408.5,1264.6 1410.5,1264.4 1412.5,1264.2 1414.5,1264.0 1416.5,1263.8 1418.5,1263.6 1420.5,1263.4 1422.5,1263.3 1424.5,1263.1 1426.5,1263.0 1428.5,1262.9 1430.4,1262.7 1432.4,1262.6 1434.4,1262.5 1436.4,1262.4 1438.4,1262.3 1440.4,1262.2 1442.4,1262.0 1444.4,1261.9 1446.4,1261.8 1448.4,1261.6 1450.4,1261.5 1452.4,1261.4 1454.4,1261.2 1456.4,1261.0 1458.4,1260.8 1460.4,1260.6 1462.4,1260.4 1464.4,1260.1 1466.4,1259.9 1468.4,1259.6 1470.4,1259.3 1472.4,1258.9 1474.4,1258.6 1476.4,1258.1 1478.4,1257.1 1480.4,1255.8 1482.4,1254.5 1484.4,1253.3 1486.4,1252.1 1488.4,1250.8"/>
<text transform="translate(1239.35 1159.40) scale(1 1.012)" text-anchor="middle" fill="#000">delay = 2.1 Chips</text>
<text class="d" transform="translate(964.50 1206.60) scale(1 1.06)" text-anchor="end" fill="#262626">0.5</text>
<text class="d" transform="translate(965.30 1341.10) scale(1 1.06)" text-anchor="end" fill="#262626">0</text>
<text class="d" transform="translate(963.40 1475.60) scale(1 1.06)" text-anchor="end" fill="#262626">-0.5</text>
<text class="d" transform="translate(988.10 1536.60) scale(1 1.06)" text-anchor="middle" fill="#262626">0</text>
<text class="d" transform="translate(1238.85 1536.60) scale(1 1.06)" text-anchor="middle" fill="#262626">1</text>
<text class="d" transform="translate(1489.60 1536.60) scale(1 1.06)" text-anchor="middle" fill="#262626">2</text>
</g>
<g id="plot9">
<rect class="ax" x="1751" y="1180" width="4" height="273"/>
<rect class="ax" x="2255" y="1180" width="4" height="273"/>
<rect class="ax" x="1751" y="1180" width="508" height="4"/>
<rect class="ax" x="1751" y="1449" width="508" height="4"/>
<rect class="ax" x="2003" y="1184" width="4" height="5"/>
<rect class="ax" x="2003" y="1444" width="4" height="5"/>
<rect class="ax" x="1755" y="1315" width="5" height="3"/>
<rect class="ax" x="2250" y="1315" width="5" height="3"/>
<polyline class="ln" points="1752.2,1316.5 1754.2,1316.5 1756.2,1316.4 1758.2,1316.4 1760.3,1316.4 1762.3,1316.3 1764.3,1316.2 1766.3,1316.2 1768.3,1316.1 1770.3,1316.0 1772.3,1316.0 1774.3,1315.9 1776.3,1315.8 1778.3,1315.7 1780.3,1315.6 1782.3,1315.4 1784.3,1315.3 1786.3,1315.1 1788.3,1315.0 1790.3,1314.8 1792.3,1314.6 1794.3,1314.4 1796.3,1314.2 1798.3,1314.0 1800.3,1313.8 1802.3,1313.6 1804.3,1313.5 1806.3,1313.3 1808.3,1313.1 1810.3,1312.9 1812.3,1312.8 1814.4,1312.6 1816.4,1312.4 1818.4,1312.3 1820.4,1312.1 1822.4,1311.9 1824.4,1311.7 1826.4,1311.5 1828.4,1311.4 1830.4,1311.2 1832.4,1311.0 1834.4,1310.9 1836.4,1310.7 1838.4,1310.5 1840.4,1310.4 1842.4,1310.2 1844.4,1310.1 1846.4,1310.0 1848.4,1309.8 1850.4,1309.7 1852.4,1309.5 1854.4,1309.4 1856.4,1309.3 1858.4,1309.1 1860.4,1309.0 1862.4,1308.9 1864.4,1308.8 1866.4,1308.6 1868.4,1308.5 1870.5,1308.4 1872.5,1308.3 1874.5,1308.2 1876.5,1308.1 1878.5,1308.0 1880.5,1308.0 1882.5,1307.9 1884.5,1307.8 1886.5,1307.8 1888.5,1307.7 1890.5,1307.7 1892.5,1307.7 1894.5,1307.6 1896.5,1307.6 1898.5,1307.6 1900.5,1307.5 1902.5,1307.5 1904.5,1307.5 1906.5,1307.4 1908.5,1307.4 1910.5,1307.3 1912.5,1307.3 1914.5,1307.2 1916.5,1307.2 1918.5,1307.1 1920.5,1307.0 1922.5,1306.8 1924.6,1306.6 1926.6,1306.5 1928.6,1306.5 1930.6,1306.5 1932.6,1306.5 1934.6,1306.5 1936.6,1306.5 1938.6,1306.6 1940.6,1307.1 1942.6,1307.7 1944.6,1308.4 1946.6,1309.0 1948.6,1309.3 1950.6,1309.4 1952.6,1309.3 1954.6,1309.1 1956.6,1308.9 1958.6,1308.6 1960.6,1308.3 1962.6,1308.0 1964.6,1307.7 1966.6,1307.3 1968.6,1306.9 1970.6,1306.4 1972.6,1305.8 1974.6,1305.0 1976.6,1304.3 1978.6,1303.4 1980.7,1302.4 1982.7,1301.3 1984.7,1300.7 1986.7,1300.6 1988.7,1300.7 1990.7,1300.7 1992.7,1300.8 1994.7,1300.9 1996.7,1300.9 1998.7,1301.0 2000.7,1301.1 2002.7,1301.1 2004.7,1301.2 2006.7,1301.2 2008.7,1301.2 2010.7,1300.9 2012.7,1300.2 2014.7,1299.4 2016.7,1298.5 2018.7,1297.7 2020.7,1296.8 2022.7,1295.6 2024.7,1294.5 2026.7,1293.4 2028.7,1292.4 2030.7,1291.7 2032.7,1291.3 2034.7,1290.8 2036.8,1290.5 2038.8,1290.1 2040.8,1289.8 2042.8,1289.5 2044.8,1289.3 2046.8,1289.0 2048.8,1288.8 2050.8,1288.5 2052.8,1288.3 2054.8,1288.1 2056.8,1287.9 2058.8,1287.6 2060.8,1287.4 2062.8,1287.1 2064.8,1286.9 2066.8,1286.6 2068.8,1286.3 2070.8,1286.1 2072.8,1285.8 2074.8,1285.6 2076.8,1285.4 2078.8,1285.1 2080.8,1285.0 2082.8,1284.8 2084.8,1284.6 2086.8,1284.5 2088.8,1284.4 2090.9,1284.2 2092.9,1284.1 2094.9,1284.0 2096.9,1283.9 2098.9,1283.8 2100.9,1283.8 2102.9,1283.7 2104.9,1283.6 2106.9,1283.5 2108.9,1283.4 2110.9,1283.3 2112.9,1283.3 2114.9,1283.2 2116.9,1283.1 2118.9,1283.1 2120.9,1283.0 2122.9,1283.0 2124.9,1282.9 2126.9,1282.9 2128.9,1282.8 2130.9,1282.7 2132.9,1282.6 2134.9,1282.5 2136.9,1282.3 2138.9,1282.0 2140.9,1281.7 2142.9,1281.4 2144.9,1281.3 2147.0,1281.3 2149.0,1281.5 2151.0,1281.9 2153.0,1282.3 2155.0,1282.7 2157.0,1283.2 2159.0,1283.8 2161.0,1284.5 2163.0,1285.0 2165.0,1285.3 2167.0,1285.4 2169.0,1285.3 2171.0,1285.1 2173.0,1284.9 2175.0,1284.7 2177.0,1284.4 2179.0,1284.1 2181.0,1283.8 2183.0,1283.6 2185.0,1283.3 2187.0,1283.1 2189.0,1282.9 2191.0,1282.7 2193.0,1282.6 2195.0,1282.4 2197.0,1282.2 2199.0,1282.0 2201.0,1281.7 2203.1,1281.5 2205.1,1281.2 2207.1,1280.9 2209.1,1280.5 2211.1,1280.0 2213.1,1279.3 2215.1,1278.4 2217.1,1277.4 2219.1,1276.4 2221.1,1275.3 2223.1,1274.0 2225.1,1272.7 2227.1,1271.4 2229.1,1270.3 2231.1,1269.6 2233.1,1269.0 2235.1,1268.5 2237.1,1268.1 2239.1,1267.7 2241.1,1267.6 2243.1,1267.5 2245.1,1267.5 2247.1,1267.5 2249.1,1267.5 2251.1,1267.5 2253.1,1267.5 2255.1,1267.5"/>
<text transform="translate(2004.10 1159.40) scale(1 1.012)" text-anchor="middle" fill="#000">delay = 2.4 Chips</text>
<text class="d" transform="translate(1727.50 1206.60) scale(1 1.06)" text-anchor="end" fill="#262626">0.5</text>
<text class="d" transform="translate(1728.30 1341.10) scale(1 1.06)" text-anchor="end" fill="#262626">0</text>
<text class="d" transform="translate(1726.40 1475.60) scale(1 1.06)" text-anchor="end" fill="#262626">-0.5</text>
<text class="d" transform="translate(1751.60 1536.60) scale(1 1.06)" text-anchor="middle" fill="#262626">0</text>
<text class="d" transform="translate(2003.60 1536.60) scale(1 1.06)" text-anchor="middle" fill="#262626">1</text>
<text class="d" transform="translate(2255.60 1536.60) scale(1 1.06)" text-anchor="middle" fill="#262626">2</text>
</g>
<text transform="translate(1240.00 1615.10) scale(1 1.012)" text-anchor="middle" fill="#000">Correlation Interval(Chip)</text>
<text transform="translate(66.50 771.50) rotate(-90) scale(1 1.012)" text-anchor="middle" fill="#000">CodePhase Err(Chip)</text>
</svg>
</body>
</html>
